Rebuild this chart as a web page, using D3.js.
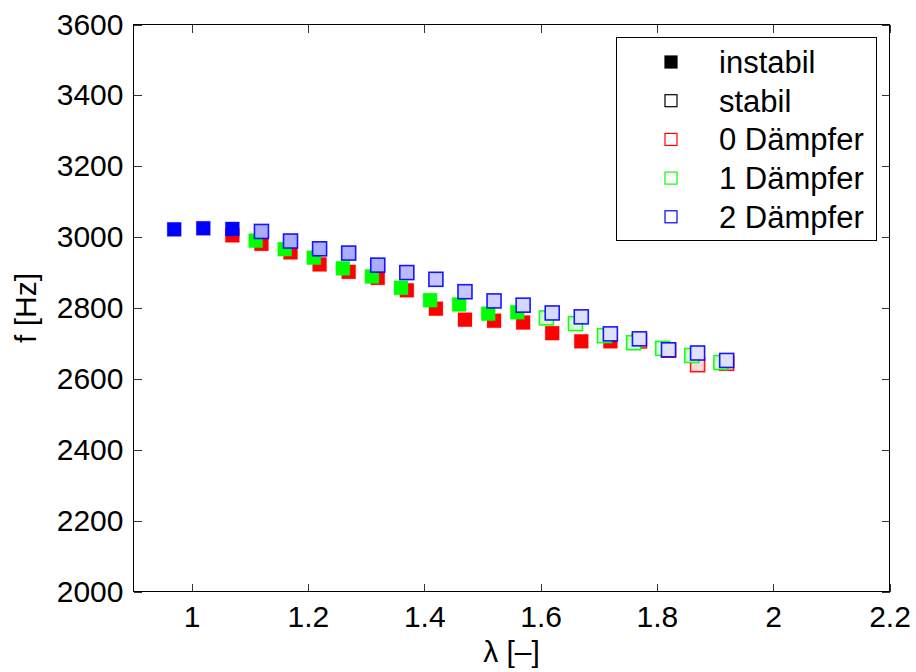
<!DOCTYPE html>
<html>
<head>
<meta charset="utf-8">
<script src="https://cdn.jsdelivr.net/npm/d3@7"></script>
<style>
  body { margin: 0; background: #fff; }
  svg { display: block; }
  text { font-family: "Liberation Sans", Arial, Helvetica, sans-serif; fill: #000; }
</style>
</head>
<body>
<svg id="chart" width="916" height="672"></svg>
<script>
// ---- data: frequency f [Hz] over λ [-] for 0, 1 and 2 dampers ----
// stable flag: 0 = instabil (filled marker), 1 = stabil (outlined marker)
// shade: fill strength of the stable markers
const lambda0 = [1.07, 1.12, 1.17, 1.22, 1.27, 1.32, 1.37, 1.42, 1.47, 1.52, 1.57, 1.62, 1.67, 1.72, 1.77, 1.82, 1.87, 1.92];
const freq0   = [3005, 2981, 2957, 2923, 2902, 2885, 2850, 2798, 2767, 2764, 2759, 2729, 2706, 2706, 2707, 2681, 2640, 2644];
const stable0 = [0, 0, 0, 0, 0, 0, 0, 0, 0, 0, 0, 0, 0, 0, 1, 1, 1, 1];
const shade0  = [0, 0, 0, 0, 0, 0, 0, 0, 0, 0, 0, 0, 0, 0, 0.15, 0.15, 0.15, 0.15];

const lambda1 = [1.11, 1.16, 1.21, 1.26, 1.31, 1.36, 1.41, 1.46, 1.51, 1.56, 1.61, 1.66, 1.71, 1.76, 1.81, 1.86, 1.91];
const freq1   = [2990, 2966, 2942, 2912, 2889, 2857, 2822, 2810, 2784, 2788, 2772, 2756, 2722, 2702, 2686, 2666, 2646];
const stable1 = [0, 0, 0, 0, 0, 0, 0, 0, 0, 0, 1, 1, 1, 1, 1, 1, 1];
const shade1  = [0, 0, 0, 0, 0, 0, 0, 0, 0, 0, 0.2, 0.18, 0.18, 0.18, 0.18, 0.18, 0.18];

const lambda2 = [0.97, 1.02, 1.07, 1.12, 1.17, 1.22, 1.27, 1.32, 1.37, 1.42, 1.47, 1.52, 1.57, 1.62, 1.67, 1.72, 1.77, 1.82, 1.87, 1.92];
const freq2   = [3022, 3025, 3023, 3016, 2989, 2967, 2955, 2921, 2900, 2881, 2846, 2820, 2808, 2786, 2775, 2727, 2713, 2682, 2673, 2652];
const stable2 = [0, 0, 0, 1, 1, 1, 1, 1, 1, 1, 1, 1, 1, 1, 1, 1, 1, 1, 1, 1];
const shade2  = [0, 0, 0, 0.33, 0.33, 0.33, 0.33, 0.33, 0.27, 0.22, 0.22, 0.18, 0.16, 0.15, 0.13, 0.12, 0.12, 0.12, 0.12, 0.12];

const xTicks = [1, 1.2, 1.4, 1.6, 1.8, 2, 2.2];
const xTickLabels = ["1", "1.2", "1.4", "1.6", "1.8", "2", "2.2"];
const yTicks = [2000, 2200, 2400, 2600, 2800, 3000, 3200, 3400, 3600];
const yTickLabels = ["2000", "2200", "2400", "2600", "2800", "3000", "3200", "3400", "3600"];

const legendLabels = ["instabil", "stabil", "0 Dämpfer", "1 Dämpfer", "2 Dämpfer"];

// ---- layout ----
const svg = d3.select("#chart");
const plotL = 133.5, plotR = 889.5, plotT = 24.5, plotB = 591.5;
const x = d3.scaleLinear().domain([0.9, 2.2]).range([plotL, plotR]);
const y = d3.scaleLinear().domain([2000, 3600]).range([plotB, plotT]);
const fontSize = 30;
const legendFont = 31;
const tickLen = 8;

const series = [
  { color: "#ff0000", lam: lambda0, f: freq0, st: stable0, sh: shade0 },
  { color: "#00ff00", lam: lambda1, f: freq1, st: stable1, sh: shade1 },
  { color: "#0000ff", lam: lambda2, f: freq2, st: stable2, sh: shade2 }
];

// ---- markers (red below green below blue) ----
const size = 14;
const gData = svg.append("g");
series.forEach(s => {
  const pts = s.lam.map((l, i) => ({ l, f: s.f[i], st: s.st[i], sh: s.sh[i] }));
  gData.append("g").selectAll("rect").data(pts).join("rect")
    .attr("x", d => x(d.l) - size / 2)
    .attr("y", d => y(d.f) - size / 2)
    .attr("width", size)
    .attr("height", size)
    .attr("fill", d => d.st ? d3.interpolateRgb("#ffffff", s.color)(d.sh) : s.color)
    .attr("stroke", s.color)
    .attr("stroke-width", d => d.st ? 1.6 : 1)
    .attr("stroke-opacity", d => d.st ? 0.9 : 0.25);
});

// ---- axes box with inward ticks on all sides ----
const gAx = svg.append("g").attr("shape-rendering", "crispEdges");

const xBottom = d3.axisBottom(x).tickValues(xTicks).tickSizeInner(-tickLen).tickSizeOuter(0)
  .tickFormat((d, i) => xTickLabels[i]).tickPadding(14);
const xTop = d3.axisTop(x).tickValues(xTicks).tickSizeInner(-tickLen).tickSizeOuter(0).tickFormat("");
const yLeft = d3.axisLeft(y).tickValues(yTicks).tickSizeInner(-tickLen).tickSizeOuter(0)
  .tickFormat((d, i) => yTickLabels[i]).tickPadding(10);
const yRight = d3.axisRight(y).tickValues(yTicks).tickSizeInner(-tickLen).tickSizeOuter(0).tickFormat("");

function styleAxis(g) {
  g.select(".domain").remove();
  g.selectAll(".tick line").attr("stroke", "#333").attr("stroke-width", 1);
  g.selectAll(".tick text").attr("font-size", fontSize).attr("fill", "#000");
  g.attr("font-family", null).attr("font-size", null);
}

gAx.append("g").attr("transform", `translate(0,${plotB})`).call(xBottom).call(styleAxis);
gAx.append("g").attr("transform", `translate(0,${plotT})`).call(xTop).call(styleAxis);
gAx.append("g").attr("transform", `translate(${plotL},0)`).call(yLeft).call(styleAxis);
gAx.append("g").attr("transform", `translate(${plotR},0)`).call(yRight).call(styleAxis);

gAx.append("rect")
  .attr("x", plotL).attr("y", plotT)
  .attr("width", plotR - plotL).attr("height", plotB - plotT)
  .attr("fill", "none").attr("stroke", "#000").attr("stroke-width", 1.3);

// ---- axis titles ----
svg.append("text")
  .attr("x", (plotL + plotR) / 2).attr("y", 662)
  .attr("text-anchor", "middle").attr("font-size", fontSize)
  .text("λ [–]");
svg.append("text")
  .attr("transform", `translate(36,${(plotT + plotB) / 2}) rotate(-90)`)
  .attr("text-anchor", "middle").attr("font-size", fontSize)
  .text("f [Hz]");

// ---- legend ----
const lg = svg.append("g");
lg.append("rect")
  .attr("x", 616.5).attr("y", 37.5).attr("width", 260).attr("height", 203)
  .attr("fill", "#fff").attr("stroke", "#000").attr("stroke-width", 1.3)
  .attr("shape-rendering", "crispEdges");
const legendStyles = [
  { fill: "#000", stroke: "#000" },
  { fill: "#fff", stroke: "#000" },
  { fill: "#fff", stroke: "#ff0000" },
  { fill: "#fff", stroke: "#00ff00" },
  { fill: "#fff", stroke: "#0000ff" }
];
const ly0 = 62, ldy = 38.7, lm = 12;
const items = lg.selectAll("g.item").data(legendLabels).join("g").attr("class", "item")
  .attr("transform", (d, i) => `translate(0,${ly0 + i * ldy})`);
items.append("rect")
  .attr("x", 671 - lm / 2).attr("y", -lm / 2).attr("width", lm).attr("height", lm)
  .attr("fill", (d, i) => legendStyles[i].fill)
  .attr("stroke", (d, i) => legendStyles[i].stroke).attr("stroke-width", 1.2);
items.append("text")
  .attr("x", 719).attr("y", 0).attr("dy", "0.35em")
  .attr("font-size", legendFont)
  .text(d => d);
</script>
</body>
</html>
